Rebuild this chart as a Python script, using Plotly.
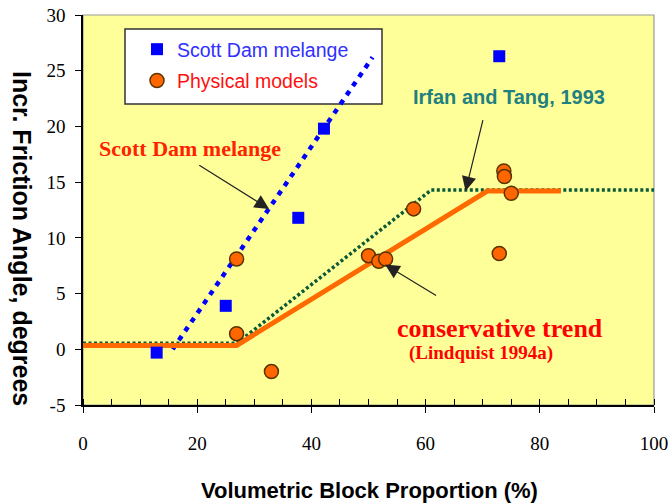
import plotly.graph_objects as go

# ---- data ----
scott_x = [12.9, 25.0, 37.7, 42.2, 72.9]
scott_y = [-0.3, 3.9, 11.8, 19.8, 26.3]

phys_x = [26.9, 26.9, 33.0, 50.0, 51.8, 53.0, 57.9, 72.9, 73.7, 73.8, 75.0]
phys_y = [8.1, 1.4, -2.0, 8.4, 7.9, 8.1, 12.6, 8.6, 16.0, 15.5, 14.0]

scott_trend_x = [15.7, 50.7]
scott_trend_y = [0.0, 26.2]

cons_x = [0, 26.9, 70.8, 83.7]
cons_y = [0.35, 0.35, 14.2, 14.2]

irfan_x = [0, 27.0, 61.0, 100]
irfan_y = [0.55, 0.55, 14.3, 14.3]

x_ticks = [0, 20, 40, 60, 80, 100]
x_ticktext = ["0", "20", "40", "60", "80", "100"]
y_ticks = [-5, 0, 5, 10, 15, 20, 25, 30]
y_ticktext = ["-5", "0", "5", "10", "15", "20", "25", "30"]

fig = go.Figure()

fig.add_trace(go.Scatter(x=scott_trend_x, y=scott_trend_y, mode="lines",
                         line=dict(color="#0000ff", width=4.5, dash="5px,6px"),
                         showlegend=False, hoverinfo="skip"))
fig.add_trace(go.Scatter(x=irfan_x, y=irfan_y, mode="lines",
                         line=dict(color="#0a5a3a", width=3.5, dash="3px,2.5px"),
                         showlegend=False, hoverinfo="skip"))
fig.add_trace(go.Scatter(x=cons_x, y=cons_y, mode="lines",
                         line=dict(color="#ff6a00", width=5),
                         showlegend=False, hoverinfo="skip"))

fig.add_trace(go.Scatter(x=scott_x, y=scott_y, mode="markers",
                         name="<span style='color:#3030ff'>Scott Dam melange</span>",
                         legendgroup="a",
                         marker=dict(symbol="square", size=12, color="#0000ff")))
fig.add_trace(go.Scatter(x=phys_x, y=phys_y, mode="markers",
                         name="<span style='color:#ff1010'>Physical models</span>",
                         legendgroup="b",
                         marker=dict(symbol="circle", size=14, color="#ff6600",
                                     line=dict(color="#5a3300", width=1.5))))

L, R, T, B = 83, 17, 15, 99
W, H = 671, 504
pw, ph = W - L - R, H - T - B

def px2paper(px, py):
    return (px - L) / pw, (H - B - py) / ph

# legend box
bx0, by1 = px2paper(125, 29)
bx1, by0 = px2paper(382, 104)
fig.add_shape(type="rect", xref="paper", yref="paper", x0=bx0, x1=bx1, y0=by0, y1=by1,
              line=dict(color="#333333", width=1.5), fillcolor="white", layer="below")
# top/right border
fig.add_shape(type="rect", xref="paper", yref="paper", x0=0, x1=1, y0=0, y1=1,
              line=dict(color="#9a9a9a", width=1.2), layer="below")

serif = "Liberation Serif"
sans = "Liberation Sans"

anns = []
def txt(text, x, y, size, color, family, bold=True, **kw):
    t = f"<b>{text}</b>" if bold else text
    anns.append(dict(text=t, x=x, y=y, xref="x", yref="y", showarrow=False,
                     xanchor="left", yanchor="middle",
                     font=dict(size=size, color=color, family=family), **kw))

txt("Scott Dam melange", 2.45, 18.0, 22, "#ff2200", serif)
txt("Irfan and Tang, 1993", 57.4, 22.6, 20, "#1f8080", sans)
txt("conservative trend", 54.6, 1.9, 26, "#ff0000", serif)
txt("(Lindquist 1994a)", 56.7, -0.35, 19, "#ff0000", serif)

def arrow(x0, y0, x1, y1):
    anns.append(dict(text="", x=x1, y=y1, ax=x0, ay=y0, xref="x", yref="y",
                     axref="x", ayref="y", showarrow=True, arrowhead=2,
                     arrowsize=2.4, arrowwidth=1.2, arrowcolor="#222222", standoff=0))

arrow(20.1, 16.6, 32.6, 12.6)
arrow(70.1, 20.7, 67.0, 14.2)
arrow(62.1, 4.75, 52.9, 7.6)

# axis titles
tx, ty = px2paper(369, 490)
anns.append(dict(text="<b>Volumetric Block Proportion (%)</b>", x=tx, y=ty, xref="paper", yref="paper",
                 showarrow=False, xanchor="center", yanchor="middle",
                 font=dict(size=22, color="black", family=sans)))
tx, ty = px2paper(22, 238)
anns.append(dict(text="<b>Incr. Friction Angle, degrees</b>", x=tx, y=ty, xref="paper", yref="paper",
                 showarrow=False, xanchor="center", yanchor="middle", textangle=90,
                 font=dict(size=25, color="black", family=sans)))

lx, ly = px2paper(137, 30)
fig.update_layout(
    width=W, height=H,
    margin=dict(l=L, r=R, t=T, b=B, pad=0, autoexpand=False),
    paper_bgcolor="white", plot_bgcolor="#ffff99",
    annotations=anns,
    legend=dict(x=lx, y=ly, xanchor="left", yanchor="top", bgcolor="rgba(0,0,0,0)",
                font=dict(size=19.5, family=sans), tracegroupgap=3, traceorder="grouped"),
    xaxis=dict(range=[0, 100], tickvals=x_ticks, ticktext=x_ticktext, ticks="outside", ticklen=6, tickwidth=1.2,
               tickcolor="black", showline=True, linecolor="black", linewidth=1.5,
               showgrid=False, zeroline=False, ticklabelstandoff=14, automargin=False,
               tickfont=dict(family=serif, size=19, color="black"),
               minor=dict(dtick=5, ticks="inside", ticklen=6, tickcolor="black", tickwidth=1.2, showgrid=False)),
    yaxis=dict(range=[-5, 30], tickvals=y_ticks, ticktext=y_ticktext, ticks="outside", ticklen=6, tickwidth=1.2,
               tickcolor="black", showline=True, linecolor="black", linewidth=1.5,
               showgrid=False, zeroline=False, ticklabelstandoff=6, automargin=False,
               tickfont=dict(family=serif, size=19, color="black")),
)

fig.write_html("out.html", config={"displayModeBar": False},
               post_script="document.body.style.margin='0';document.body.style.overflow='hidden';")
